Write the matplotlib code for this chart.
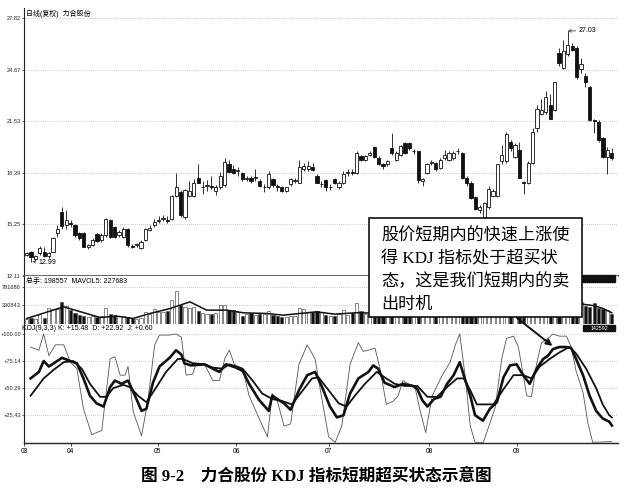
"""力合股份 日线 + 成交量 + KDJ(9,3,3) 示意图（图 9-2）。"""

import matplotlib
matplotlib.use("Agg")
import matplotlib.pyplot as plt
from matplotlib.patches import Rectangle

plt.rcParams.update({
    "font.family": ["Liberation Sans", "Noto Sans CJK SC"],
    "font.size": 5,
    "axes.linewidth": 0.8,
})

W, H = 626, 492
SERIF_CJK = ["Liberation Serif", "Noto Sans CJK SC"]

# ---- 日线 OHLC（按 K 线顺序） ----
OPEN = [13.39, 13.59, 13.17, 13.5, 13.6, 13.3, 13.6, 14.7, 16.0, 15.2,
        15.35, 15.2, 14.7, 14.7, 13.85, 14.0, 14.65, 14.3, 14.6, 15.5,
        15.1, 14.6, 14.5, 15.0, 13.95, 14.0, 13.8, 14.3, 14.9, 15.2,
        15.45, 15.6, 15.5, 15.6, 17.0, 17.2, 15.7, 17.0, 17.0, 18.1,
        17.5, 17.6, 17.6, 17.3, 17.5, 17.65, 18.9, 18.6, 18.5, 18.4,
        18.0, 18.1, 18.1, 17.9, 17.5, 17.5, 18.0, 17.6, 17.5, 17.3,
        17.7, 17.9, 17.8, 18.6, 18.6, 18.75, 18.2, 17.7, 17.95, 17.5,
        18.0, 17.5, 17.8, 18.4, 18.45, 18.4, 19.4, 19.2, 19.5, 19.95,
        19.3, 18.9, 18.9, 19.9, 19.2, 19.5, 20.2, 20.2, 19.7, 19.7,
        17.9, 18.4, 19.0, 19.0, 18.7, 19.3, 19.2, 19.3, 19.7, 19.6,
        18.1, 17.8, 16.9, 16.1, 15.7, 16.3, 17.0, 17.0, 19.1, 19.1,
        20.3, 19.35, 19.8, 17.85, 17.8, 19.0, 21.1, 22.0, 22.1, 22.5,
        22.2, 25.7, 24.8, 25.6, 26.1, 26.0, 24.7, 24.3, 23.6, 21.6,
        21.5, 20.5, 19.35, 19.6]
HIGH = [13.6, 13.65, 13.4, 13.95, 13.9, 13.6, 14.5, 15.2, 16.3, 16.1,
        15.5, 15.3, 14.8, 14.8, 14.05, 14.45, 14.7, 14.75, 15.65, 15.6,
        15.15, 14.9, 15.1, 15.05, 14.05, 14.1, 14.3, 15.05, 15.2, 15.6,
        15.75, 15.85, 15.75, 17.05, 18.4, 17.35, 17.4, 17.9, 18.0, 18.9,
        17.9, 17.95, 18.2, 17.65, 18.45, 19.3, 19.15, 18.85, 18.75, 18.45,
        18.2, 18.2, 18.6, 18.0, 17.7, 18.5, 18.1, 17.7, 17.6, 17.55,
        18.1, 18.1, 19.2, 19.0, 19.1, 19.0, 18.3, 17.9, 18.0, 17.7,
        18.1, 17.9, 18.5, 18.6, 18.6, 19.75, 19.5, 19.5, 19.7, 20.05,
        19.4, 19.0, 19.2, 20.8, 19.7, 20.1, 20.3, 20.3, 19.85, 19.75,
        18.1, 19.0, 19.15, 19.05, 19.3, 19.8, 19.7, 19.75, 19.9, 19.65,
        18.2, 17.9, 17.0, 16.45, 16.6, 17.6, 17.4, 18.95, 20.1, 20.9,
        20.4, 20.2, 20.3, 17.9, 19.1, 21.1, 22.5, 22.9, 23.4, 23.2,
        23.95, 26.0, 26.5, 27.03, 26.3, 26.1, 25.4, 24.5, 23.7, 21.7,
        21.6, 20.6, 19.95, 19.9]
LOW = [13.3, 12.99, 13.1, 13.4, 13.25, 13.2, 13.55, 14.5, 15.0, 15.0,
       15.1, 14.5, 14.3, 13.85, 13.75, 13.95, 14.2, 14.2, 14.5, 14.4,
       14.45, 14.5, 14.45, 13.9, 13.8, 13.85, 13.75, 14.25, 14.85, 15.1,
       15.35, 15.45, 15.35, 15.5, 16.9, 15.7, 15.6, 16.9, 16.95, 17.75,
       17.1, 17.3, 17.4, 17.05, 17.4, 17.55, 18.4, 18.3, 18.2, 17.9,
       17.9, 17.8, 17.9, 17.5, 17.2, 17.4, 17.5, 17.3, 17.25, 17.25,
       17.6, 17.8, 17.75, 18.5, 18.5, 18.5, 17.75, 17.5, 17.3, 17.35,
       17.7, 17.4, 17.7, 18.2, 18.25, 18.35, 19.1, 19.1, 19.4, 19.3,
       18.85, 18.65, 18.8, 19.5, 19.1, 19.4, 19.55, 19.8, 19.55, 17.8,
       17.6, 18.3, 18.85, 18.5, 18.6, 19.2, 19.1, 19.2, 19.55, 18.0,
       17.6, 16.8, 16.1, 15.95, 15.5, 16.2, 16.9, 16.95, 18.95, 19.0,
       19.7, 19.3, 18.05, 17.1, 17.7, 18.9, 20.9, 21.9, 22.0, 21.65,
       22.15, 24.9, 24.7, 25.5, 25.8, 24.1, 24.5, 23.6, 21.55, 20.8,
       20.3, 19.3, 18.3, 19.2]
CLOSE = [13.53, 13.25, 13.34, 13.8, 13.3, 13.5, 14.4, 15.0, 15.15, 15.5,
         15.25, 14.6, 14.4, 13.9, 14.0, 14.3, 14.25, 14.6, 15.6, 14.5,
         14.5, 14.8, 15.0, 14.0, 13.9, 14.0, 14.2, 15.0, 15.05, 15.4,
         15.5, 15.6, 15.45, 17.0, 17.5, 15.8, 17.35, 17.3, 17.8, 17.8,
         17.5, 17.65, 17.55, 17.5, 18.2, 19.05, 18.45, 18.4, 18.5, 18.0,
         18.1, 17.9, 18.1, 17.6, 17.5, 18.3, 17.65, 17.5, 17.3, 17.5,
         18.0, 17.9, 18.75, 18.8, 18.8, 18.55, 17.8, 17.7, 17.5, 17.5,
         17.8, 17.8, 18.3, 18.4, 18.4, 19.6, 19.2, 19.4, 19.6, 19.35,
         18.9, 18.8, 19.1, 19.6, 19.6, 20.0, 19.6, 19.9, 19.7, 17.95,
         18.0, 18.9, 19.0, 18.6, 19.2, 19.5, 19.6, 19.6, 19.7, 18.1,
         17.8, 16.85, 16.2, 16.3, 16.55, 17.4, 17.3, 18.9, 19.5, 20.75,
         19.9, 20.1, 18.1, 17.8, 19.0, 20.9, 22.3, 22.2, 23.0, 21.7,
         23.9, 25.1, 25.8, 26.2, 25.9, 24.2, 25.0, 23.9, 21.6, 21.55,
         20.4, 19.35, 19.8, 19.3]

# ---- 成交量（千手） ----
VOLUME = [100, 110, 95, 210, 120, 330, 300, 320, 460, 380,
          280, 230, 180, 150, 130, 160, 140, 150, 340, 200,
          180, 170, 160, 130, 110, 100, 120, 250, 200, 320,
          250, 240, 260, 510, 700, 390, 360, 340, 350, 260,
          230, 200, 210, 220, 400, 400, 280, 290, 250, 170,
          200, 230, 180, 200, 210, 260, 190, 150, 140, 130,
          150, 160, 330, 300, 240, 250, 260, 240, 180, 170,
          160, 200, 280, 180, 230, 430, 260, 200, 180, 190,
          170, 250, 200, 180, 260, 220, 230, 240, 200, 180,
          300, 220, 200, 180, 170, 190, 210, 200, 220, 190,
          320, 250, 300, 280, 240, 260, 300, 250, 380, 300,
          420, 330, 300, 380, 260, 300, 450, 500, 380, 420,
          360, 480, 520, 440, 480, 420, 460, 380, 360, 440,
          330, 300, 280, 199]
VOLUME = [v * 1000 for v in VOLUME]
MAVOL_X = [0, 8.4, 16.7, 20.5, 24.2, 28, 32.6, 37.1, 40.9, 45.5, 49.3,
           54.5, 58.3, 62.1, 65.9, 70, 75, 80, 90, 100, 110, 120, 125.8,
           129, 131, 133]
MAVOL_Y = [107, 356, 128, 157, 107, 214, 320, 463, 285, 285, 228,
           214, 178, 214, 249, 200, 230, 220, 230, 260, 330, 430, 420,
           380, 320, 228]
MAVOL_Y = [v * 1000 for v in MAVOL_Y]

# ---- KDJ(9,3,3) ----
K_X = [0, 1.9, 3, 4.2, 5.7, 7.2, 9.1, 10.6, 12.1, 13.6, 15.1, 16.7, 18.2,
       19.3, 20.8, 22.3, 23.9, 25.4, 26.5, 28, 29.5, 31.8, 33.3, 34.5, 35.2,
       36.7, 39.8, 41.7, 43.2, 44.7, 45.5, 47, 48.5, 50, 52.3, 54.5, 55.3,
       56.4, 58, 59.5, 61.4, 63.3, 65.1, 66.7, 68.5, 70.1, 71.6, 73.1, 75,
       77.3, 78.4, 79.5, 81, 83.3, 85.2, 87.5, 88.5, 89.6, 90.8, 92.3, 93.8,
       95.3, 96.8, 98.2, 99.1, 100.6, 101.7, 103.5, 105.1, 106.7, 108.2,
       109.7, 111.2, 112.7, 114.2, 115.8, 117.3, 118.4, 119.5, 121, 122.6,
       123.7, 124.8, 126.4, 127.9, 129.4, 130.9, 132.4, 133]
K_Y = [59, 65, 75, 70, 74, 78, 75, 73, 59, 43, 36, 33, 51,
       57, 54, 57, 43, 29, 31, 55, 70, 78, 85, 81, 73,
       71, 72, 68, 65, 72, 71, 69, 66, 54, 39, 29, 43,
       40, 36, 30, 48, 62, 65, 51, 33, 23, 25, 45, 59,
       65, 71, 68, 55, 51, 54, 52, 49, 39, 33, 40, 42,
       54, 62, 74, 62, 43, 25, 20, 31, 37, 60,
       71, 72, 62, 54, 68, 77, 80, 86, 88, 88,
       87, 77, 62, 43, 29, 22, 19, 15.48]
D_X = [0, 3, 5.3, 7.6, 9.8, 11.7, 13.6, 15.9, 17.4, 18.9, 21.2, 22.7, 24.6,
       26.5, 28.8, 31, 33.7, 34.8, 37.1, 39.8, 41.7, 43.9, 45.5, 48.5, 50.8,
       53, 55.3, 57.6, 59.8, 62.1, 64.4, 65.9, 68.2, 70.5, 72.3, 74.2, 76.5,
       79.2, 81, 83.3, 85.6, 88.5, 90.8, 93, 95.3, 97.6, 99.1, 100.6, 102.1,
       105.9, 108.2, 110.5, 112.7, 114.6, 116.5, 118.8, 121, 123.3, 124.8,
       127.1, 129.4, 130.9, 132.4, 133]
D_Y = [43, 59, 67, 74, 75, 68, 54, 42, 42, 50, 53, 51, 43,
       37, 51, 65, 77, 77, 73, 72, 69, 68, 72, 68, 57,
       45, 40, 38, 35, 47, 59, 60, 48, 36, 33, 43, 54,
       65, 60, 54, 52, 52, 42, 42, 51, 59, 59, 48, 35,
       35, 49, 62, 62, 59, 70, 77, 83, 88, 82,
       68, 50, 35, 25, 22.92]
J_X = [0, 1.9, 3, 4.2, 5.7, 7.6, 9.1, 10.6, 12.1, 14, 16.3, 18.2, 19.3,
       20.5, 21.6, 22.3, 23.5, 25.4, 26.9, 28.4, 29.5, 31.8, 33.3, 34.5,
       35.6, 37.1, 37.9, 39.8, 41.7, 43.2, 44.5, 45.5, 46.6, 48.5, 50, 52.3,
       54.2, 55.3, 56.4, 58, 59.5, 61.4, 63.3, 65.1, 66.3, 68.2, 69.7, 71.2,
       73.1, 75, 76.1, 77.3, 78.8, 79.9, 81.4, 83, 84.1, 85.2, 86.4, 87.9,
       89.2, 90.4, 91.9, 94.2, 96, 97.2, 98.2, 99.5, 100.6, 101.7, 103.6,
       106.3, 107.8, 108.9, 110.5, 111.6, 112.7, 113.5, 114.6, 115.8, 116.9,
       118.4, 119.5, 121, 122.6, 123.7, 124.8, 126.4, 127.5, 128.6, 133]
J_Y = [88, 85, 100, 80, 90, 90, 74, 68, 31, 7, 11, 77, 79,
       62, 62, 70, 28, 6, 40, 90, 99, 99, 100, 97,
       62, 63, 73, 72, 57, 57, 78, 85, 72, 68, 43, 22,
       5, 45, 39, 15, 17, 72, 90, 77, 48, 5, 0, 15,
       72, 92, 84, 85, 87, 69, 35, 38, 43, 57, 54, 52,
       28, 9, 43, 62, 74, 90, 100, 59, 15, 0, 0,
       32, 77, 96, 98, 88, 63, 43, 42, 73, 92,
       96, 100, 98, 98, 88, 66, 46, 18, 0, 0.6]

PRICE_TICKS = [12.11, 15.25, 18.39, 21.53, 24.67, 27.82]
VOL_TICKS = [390843, 781686]
KDJ_TICKS = [25.43, 50.29, 75.14, 100.00]
MONTH_POS = [-1.5, 9.2, 29.1, 47.1, 68.2, 91.2, 111.2]
MONTH_LABELS = ["03", "04", "05", "06", "07", "08", "09"]

NOTE_LINES = ["股价短期内的快速上涨使", "得 KDJ 指标处于超买状",
              "态，这是我们短期内的卖", "出时机"]
CAPTION = "图 9-2\u3000力合股份 KDJ 指标短期超买状态示意图"


def box(x0, y0, x1, y1):
    return [x0 / W, 1 - y1 / H, (x1 - x0) / W, (y1 - y0) / H]


def px(x, y):
    return x / W, 1 - y / H


def style_axis(ax, ticks, labels):
    ax.set_xlim(-0.61, 134.4)
    for s in ("top", "right", "bottom"):
        ax.spines[s].set_visible(False)
    ax.spines["left"].set_color("#222")
    ax.set_yticks(ticks)
    ax.set_yticklabels(labels)
    ax.tick_params(axis="y", length=1.5, width=0.5, pad=0.8, labelsize=4.1,
                   colors="#222")
    ax.set_xticks([])
    ax.grid(axis="y", linestyle=(0, (1, 2)), color="#999", linewidth=0.5)
    ax.set_axisbelow(True)


def main():
    fig = plt.figure(figsize=(W / 100, H / 100), dpi=100)
    idx = list(range(len(CLOSE)))
    up = [c >= o for o, c in zip(OPEN, CLOSE)]

    # ---- 价格 ----
    ax_p = fig.add_axes(box(24, 8, 618, 276))
    ax_p.set_ylim(12.11, 28.43)
    style_axis(ax_p, PRICE_TICKS, [f"{t:.2f}" for t in PRICE_TICKS])
    ax_p.spines["bottom"].set_visible(True)
    ax_p.spines["bottom"].set_color("#666")
    ax_p.spines["bottom"].set_linewidth(1.4)
    ax_p.vlines(idx, LOW, HIGH, color="#111", linewidth=0.6, zorder=2)
    bottoms = [min(o, c) for o, c in zip(OPEN, CLOSE)]
    heights = [max(abs(c - o), 0.04) for o, c in zip(OPEN, CLOSE)]
    ax_p.bar(idx, heights, bottom=bottoms, width=0.72,
             color=["white" if u else "#111" for u in up],
             edgecolor="#111", linewidth=0.6, zorder=3)
    ax_p.annotate("12.99", xy=(1.3, 12.99), xytext=(2.6, 12.92),
                  fontsize=5, va="center", ha="left",
                  arrowprops=dict(arrowstyle="->", lw=0.5, color="#222",
                                  shrinkA=0, shrinkB=0))
    ax_p.annotate("27.03", xy=(123, 27.03), xytext=(125.4, 27.05),
                  fontsize=5, va="center", ha="left",
                  arrowprops=dict(arrowstyle="->", lw=0.5, color="#222",
                                  shrinkA=0, shrinkB=0))
    ax_p.text(0.004, 0.995, "日线(复权)  力合股份", transform=ax_p.transAxes,
              fontsize=5, va="top", ha="left")

    # ---- 成交量 ----
    ax_v = fig.add_axes(box(24, 276, 618, 323.5))
    ax_v.set_ylim(0, 1014500)
    style_axis(ax_v, VOL_TICKS, [str(t) for t in VOL_TICKS])
    ax_v.bar(idx, VOLUME, width=0.72,
             color=["white" if u else "#111" for u in up],
             edgecolor="#555", linewidth=0.5, zorder=3)
    ax_v.plot(MAVOL_X, MAVOL_Y, color="#111", linewidth=1.1, zorder=4)
    ax_v.text(0.004, 0.97, "总手: 198557  MAVOL5: 227683",
              transform=ax_v.transAxes, fontsize=5, va="top", ha="left")

    # ---- KDJ ----
    ax_k = fig.add_axes(box(24, 323.5, 618, 443))
    ax_k.set_ylim(-0.65, 109.7)
    style_axis(ax_k, KDJ_TICKS, [f"+{t:.2f}" for t in KDJ_TICKS])
    ax_k.spines["bottom"].set_visible(True)
    ax_k.spines["bottom"].set_color("#222")
    ax_k.spines["bottom"].set_linewidth(1.0)
    ax_k.set_xticks(MONTH_POS)
    ax_k.set_xticklabels(MONTH_LABELS)
    ax_k.tick_params(axis="x", length=2, width=0.5, pad=1.5, labelsize=4.8)
    ax_k.plot(J_X, J_Y, color="#555", linewidth=0.6, zorder=3)
    ax_k.plot(D_X, D_Y, color="#111", linewidth=1.3, zorder=4)
    ax_k.plot(K_X, K_Y, color="#111", linewidth=1.9, zorder=5)
    ax_k.text(-0.004, 0.985, "KDJ(9,3,3) K: +15.48  D: +22.92  J: +0.60",
              transform=ax_k.transAxes, fontsize=5, va="top", ha="left")
    ax_k.annotate("", xy=(119.4, 89), xytext=(517, H - 318),
                  textcoords="figure pixels",
                  arrowprops=dict(arrowstyle="-|>", lw=1.4, color="#111",
                                  mutation_scale=9, shrinkA=0, shrinkB=0))

    # 右侧黑色标签
    fig.add_artist(Rectangle(px(582, 282), 33 / W, 7 / H,
                             transform=fig.transFigure, color="#111", zorder=6))
    fig.add_artist(Rectangle(px(583, 331), 32 / W, 6 / H,
                             transform=fig.transFigure, color="#111", zorder=6))
    fig.text(*px(599, 328), "142592", color="white", fontsize=3.8,
             ha="center", va="center", zorder=7)

    # ---- 注释框 ----
    fig.add_artist(Rectangle(px(369, 317), 213 / W, 99 / H,
                             transform=fig.transFigure, facecolor="white",
                             edgecolor="#111", linewidth=1.2, zorder=8))
    for k, line in enumerate(NOTE_LINES):
        fig.text(*px(381, 237 + 22.5 * k), line, family=SERIF_CJK,
                 fontsize=12.3, ha="left", va="center", zorder=9)

    fig.text(*px(316, 476), CAPTION, family=SERIF_CJK, fontsize=12,
             fontweight="bold", ha="center", va="center")

    fig.savefig("out.png", dpi=100, facecolor="white")
    plt.close(fig)


if __name__ == "__main__":
    main()
